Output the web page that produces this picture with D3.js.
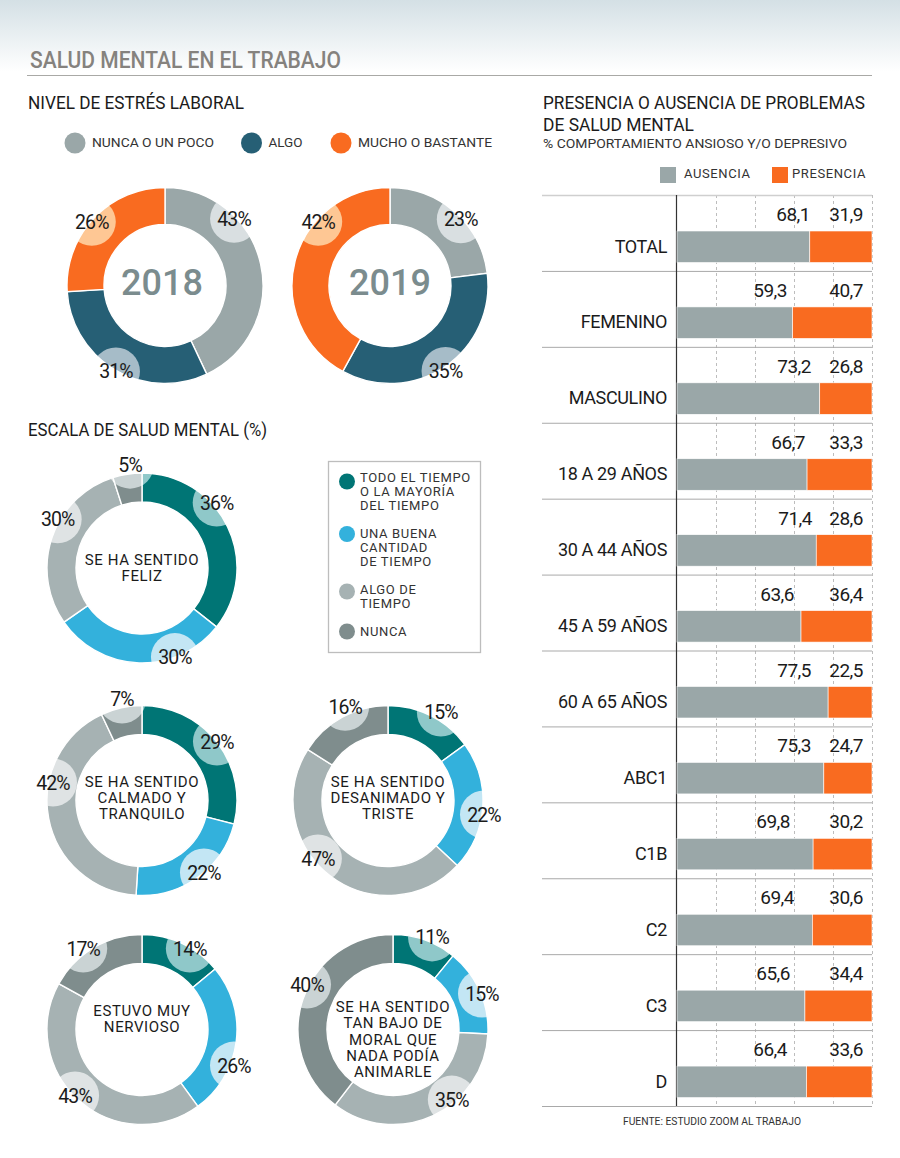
<!DOCTYPE html>
<html>
<head>
<meta charset="utf-8">
<script src="https://cdn.jsdelivr.net/npm/d3@7"></script>
<style>
  body { margin: 0; background: #fff; }
  svg { display: block; }
  text { font-family: Roboto, sans-serif; fill: #1b1b1b; }
</style>
</head>
<body>
<svg id="chart" width="900" height="1158"></svg>
<script>
// Stress donuts
var stressNames = ["NUNCA O UN POCO", "ALGO", "MUCHO O BASTANTE"];
var stress2018 = [43, 31, 26];
var stress2019 = [23, 35, 42];

// Mental health scale donuts
var scaleNames = ["TODO EL TIEMPO O LA MAYORÍA DEL TIEMPO", "UNA BUENA CANTIDAD DE TIEMPO", "ALGO DE TIEMPO", "NUNCA"];
var feliz = [36, 30, 30, 5];
var calmado = [29, 22, 42, 7];
var desanimado = [15, 22, 47, 16];
var nervioso = [14, 26, 43, 17];
var bajoMoral = [11, 15, 35, 40];

// Bars
var barCategories = ["TOTAL", "FEMENINO", "MASCULINO", "18 A 29 AÑOS", "30 A 44 AÑOS", "45 A 59 AÑOS", "60 A 65 AÑOS", "ABC1", "C1B", "C2", "C3", "D"];
var ausencia = [68.1, 59.3, 73.2, 66.7, 71.4, 63.6, 77.5, 75.3, 69.8, 69.4, 65.6, 66.4];
var presencia = [31.9, 40.7, 26.8, 33.3, 28.6, 36.4, 22.5, 24.7, 30.2, 30.6, 34.4, 33.6];

// Colours
var stressColors = ["#9aa7a8", "#265f75", "#f96b20"];
var stressTints = ["#d9dfe1", "#a6bcc8", "#fec794"];
var scaleColors = ["#007575", "#33b1dc", "#a6b2b3", "#7f8d8d"];
var scaleTints = ["#8fc8c9", "#c3e6f4", "#dfe3e4", "#cad3d4"];

var svg = d3.select("#chart");
var defs = svg.append("defs");

// Small helper for the text, the original face is tighter than Roboto
function label(parent, x, y, str, size, opts) {
  opts = opts || {};
  var t = parent.append("text")
    .attr("x", x)
    .attr("y", y)
    .attr("font-size", size)
    .attr("font-weight", opts.weight || 400)
    .attr("letter-spacing", opts.spacing || 0)
    .attr("text-anchor", opts.anchor || "start")
    .style("fill", opts.fill || "#1b1b1b")
    .text(str);
  // squeeze to the measured width of the reference
  if (opts.width) t.attr("textLength", opts.width).attr("lengthAdjust", "spacingAndGlyphs");
  return t;
}

// Header
var grad = defs.append("linearGradient").attr("id", "topFade").attr("x1", 0).attr("x2", 0).attr("y1", 0).attr("y2", 1);
grad.append("stop").attr("offset", 0).attr("stop-color", "#d4e0e5");
grad.append("stop").attr("offset", 1).attr("stop-color", "#ffffff");
svg.append("rect").attr("width", 900).attr("height", 72).attr("fill", "url(#topFade)");
label(svg, 30, 68, "SALUD MENTAL EN EL TRABAJO", 23, { weight: 500, fill: "#85827e", width: 311 });
svg.append("line").attr("x1", 27).attr("x2", 872).attr("y1", 75.5).attr("y2", 75.5).attr("stroke", "#a9a9a6").attr("stroke-width", 1);

label(svg, 28, 109, "NIVEL DE ESTRÉS LABORAL", 19, { width: 216 });
label(svg, 28, 436, "ESCALA DE SALUD MENTAL (%)", 19, { width: 239 });

// Stress legend
var stressLegendX = [75, 251.5, 341];
var stressLegendWidth = [122, 34, 134];
stressNames.forEach(function (name, i) {
  svg.append("circle").attr("cx", stressLegendX[i]).attr("cy", 143).attr("r", 10.5).attr("fill", stressColors[i]);
  label(svg, stressLegendX[i] + 17, 147, name, 13, { fill: "#333", width: stressLegendWidth[i] });
});

// Scale legend
svg.append("rect").attr("x", 328.5).attr("y", 461.5).attr("width", 152).attr("height", 191)
  .attr("fill", "#fff").attr("stroke", "#bdbdbd").attr("stroke-width", 1.3);
var scaleLegendLines = [["TODO EL TIEMPO", "O LA MAYORÍA", "DEL TIEMPO"], ["UNA BUENA", "CANTIDAD", "DE TIEMPO"], ["ALGO DE", "TIEMPO"], ["NUNCA"]];
var scaleLegendY = [481.5, 534, 591.5, 631.5];
var scaleLegendTextY = [482, 538, 594, 636];
scaleLegendLines.forEach(function (lines, i) {
  svg.append("circle").attr("cx", 347).attr("cy", scaleLegendY[i]).attr("r", 8).attr("fill", scaleColors[i]);
  lines.forEach(function (line, k) {
    label(svg, 360, scaleLegendTextY[i] + k * 14, line, 13, { spacing: 0.65, fill: "#333" });
  });
});

// Donuts
var pie = d3.pie().sort(null).value(function (d) { return d; });

function donut(cfg, idx) {
  var g = svg.append("g").attr("transform", "translate(" + cfg.cx + "," + cfg.cy + ")");
  var arc = d3.arc().innerRadius(cfg.inner).outerRadius(cfg.outer);
  var slices = pie(cfg.values);

  g.selectAll("path.slice").data(slices).join("path")
    .attr("class", "slice")
    .attr("d", arc)
    .attr("fill", function (d, i) { return cfg.colors[i]; })
    .attr("stroke", "#fff")
    .attr("stroke-width", 1.4);

  // Each percent sits on a pale disc that only shows inside the ring
  cfg.values.forEach(function (v, i) {
    var p = d3.pointRadial(cfg.angles[i] * Math.PI / 180, cfg.radii[i]);
    var clipId = "disc" + idx + "-" + i;
    defs.append("clipPath").attr("id", clipId)
      .append("circle").attr("cx", p[0]).attr("cy", p[1]).attr("r", cfg.disc);
    g.append("g").attr("clip-path", "url(#" + clipId + ")")
      .selectAll("path").data(slices).join("path")
      .attr("d", arc)
      .attr("fill", function (d, j) { return cfg.tints[j]; })
      .attr("stroke", "#fff")
      .attr("stroke-width", 1.4);
    label(g, p[0], p[1] + 7, v + "%", 19.5, { anchor: "middle", spacing: -0.9 });
  });

  cfg.center.forEach(function (line, k) {
    var y = (k - (cfg.center.length - 1) / 2) * 16.4 + 5 + (cfg.centerDy || 0);
    label(g, 0, y, line, 15, { anchor: "middle", spacing: 0.6 });
  });
  if (cfg.year) {
    label(g, cfg.yearDx, 9.5, cfg.year, 36, { anchor: "middle", weight: 500, fill: "#7b8c8e" });
  }
}

var donuts = [
  { cx: 165, cy: 285.5, outer: 98, inner: 61, disc: 24, values: stress2018, colors: stressColors, tints: stressTints, center: [], year: "2018", yearDx: -3,
    angles: [46, 209.7, 311], radii: [96, 99, 97] },
  { cx: 390, cy: 285.5, outer: 98, inner: 61, disc: 24, values: stress2019, colors: stressColors, tints: stressTints, center: [], year: "2019", yearDx: 0,
    angles: [46.9, 147, 311.6], radii: [97, 102, 96] },
  { cx: 142, cy: 568, outer: 95, inner: 66, disc: 24, values: feliz, colors: scaleColors, tints: scaleTints, center: ["SE HA SENTIDO", "FELIZ"],
    angles: [48.8, 159.7, 300, 353.4], radii: [99.3, 95, 97.4, 104] },
  { cx: 142, cy: 800.5, outer: 95, inner: 66, disc: 24, values: calmado, colors: scaleColors, tints: scaleTints, center: ["SE HA SENTIDO", "CALMADO Y", "TRANQUILO"], centerDy: -2.5,
    angles: [51.8, 139.3, 281.4, 348.8], radii: [95.4, 95, 90.8, 103] },
  { cx: 388, cy: 800.5, outer: 95, inner: 66, disc: 24, values: desanimado, colors: scaleColors, tints: scaleTints, center: ["SE HA SENTIDO", "DESANIMADO Y", "TRISTE"], centerDy: -2.5,
    angles: [31, 98.3, 230.4, 335.4], radii: [102.7, 97, 91, 103] },
  { cx: 142, cy: 1029.5, outer: 95, inner: 66, disc: 24, values: nervioso, colors: scaleColors, tints: scaleTints, center: ["ESTUVO MUY", "NERVIOSO"], centerDy: -10.5,
    angles: [30.6, 111.4, 225.4, 324], radii: [94, 98.8, 94, 100] },
  { cx: 393, cy: 1029.5, outer: 95, inner: 66, disc: 24, values: bajoMoral, colors: scaleColors, tints: scaleTints, center: ["SE HA SENTIDO", "TAN BAJO DE", "MORAL QUE", "NADA PODÍA", "ANIMARLE"], centerDy: 10,
    angles: [23, 68, 140, 297.6], radii: [100, 96, 91.5, 97] }
];
donuts.forEach(donut);

// Right panel
label(svg, 543, 109, "PRESENCIA O AUSENCIA DE PROBLEMAS", 19, { width: 322 });
label(svg, 543, 131, "DE SALUD MENTAL", 19, { width: 151 });
label(svg, 543, 148, "% COMPORTAMIENTO ANSIOSO Y/O DEPRESIVO", 13, { fill: "#333", width: 304 });

svg.append("rect").attr("x", 660).attr("y", 167).attr("width", 16).attr("height", 16).attr("fill", stressColors[0]);
label(svg, 684, 178, "AUSENCIA", 13, { spacing: 0.6, fill: "#333" });
svg.append("rect").attr("x", 772).attr("y", 167).attr("width", 16).attr("height", 16).attr("fill", stressColors[2]);
label(svg, 792, 178, "PRESENCIA", 13, { spacing: 0.6, fill: "#333" });

var x = d3.scaleLinear().domain([0, 100]).range([677, 872]);
var y = d3.scaleBand().domain(barCategories).range([195.5, 1106.5]);
var barTop = 35.5, barHeight = 31.5;

// Dashed guides
svg.selectAll("line.grid").data(x.ticks(5).slice(1)).join("line")
  .attr("class", "grid")
  .attr("x1", function (d) { return x(d) + 0.5; })
  .attr("x2", function (d) { return x(d) + 0.5; })
  .attr("y1", 195).attr("y2", 1106)
  .attr("stroke", "#bdbdbd").attr("stroke-dasharray", "3 3");

// Row rules
svg.selectAll("line.rule").data(barCategories).join("line")
  .attr("class", "rule")
  .attr("x1", 542).attr("x2", 872)
  .attr("y1", function (d) { return y(d); })
  .attr("y2", function (d) { return y(d); })
  .attr("stroke", function (d, i) { return i === 0 ? "#cfcfcf" : "#a9a9a9"; })
  .attr("stroke-width", function (d, i) { return i === 0 ? 1.5 : 1; });
svg.append("line").attr("x1", 542).attr("x2", 872).attr("y1", 1106.5).attr("y2", 1106.5).attr("stroke", "#a9a9a9");

svg.append("line").attr("x1", 676.5).attr("x2", 676.5).attr("y1", 195).attr("y2", 1106).attr("stroke", "#333").attr("stroke-width", 1.2);

// Where the first value of each row ends, these were placed by hand in the original
var ausenciaLabelEnd = [810, 787, 811, 805, 812, 794, 811, 811, 790, 794, 790, 787];

barCategories.forEach(function (cat, i) {
  var top = y(cat) + barTop;
  svg.append("rect").attr("x", x(0)).attr("y", top).attr("width", x(ausencia[i]) - x(0)).attr("height", barHeight)
    .attr("fill", stressColors[0]).attr("stroke", "#fff").attr("stroke-width", 0.6);
  svg.append("rect").attr("x", x(ausencia[i])).attr("y", top).attr("width", x(100) - x(ausencia[i])).attr("height", barHeight)
    .attr("fill", stressColors[2]).attr("stroke", "#fff").attr("stroke-width", 0.6);
  label(svg, 667, y(cat) + 57, cat, 18, { anchor: "end", spacing: -0.35 });
  label(svg, ausenciaLabelEnd[i], y(cat) + 25.5, String(ausencia[i]).replace(".", ","), 19, { anchor: "end", spacing: -0.5 });
  label(svg, 863, y(cat) + 25.5, String(presencia[i]).replace(".", ","), 19, { anchor: "end", spacing: -0.5 });
});

label(svg, 623, 1125, "FUENTE: ESTUDIO ZOOM AL TRABAJO", 10.5, { fill: "#333", width: 178 });
</script>
</body>
</html>
